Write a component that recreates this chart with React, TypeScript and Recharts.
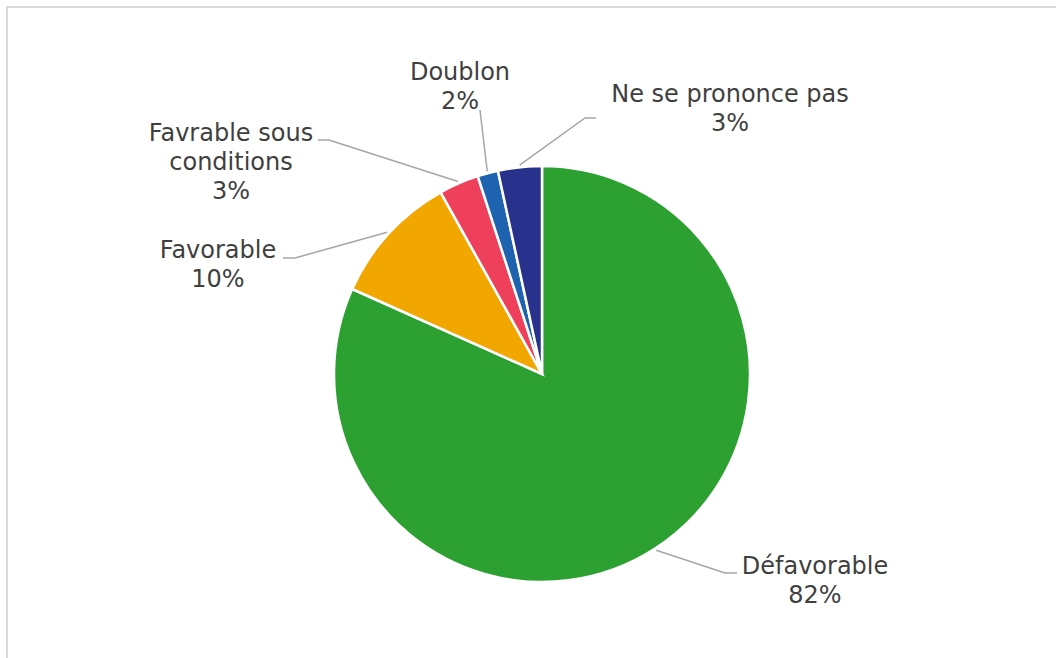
import React from "react";
import { Cell, Pie, PieChart } from "recharts";

const categories = ["Défavorable", "Favorable", "Favrable sous conditions", "Doublon", "Ne se prononce pas"];
const shares = [81.7, 10.2, 3.1, 1.6, 3.4];
const sliceColors = ["#2CA030", "#F1A700", "#EE3F5B", "#1E63B0", "#28328C"];

const data = categories.map((name, i) => ({ name, value: shares[i] }));

// label placement relative to the pie centre: elbow, line end, text centre x, first baseline, wrap width
const LABEL_LAYOUT = [
  { elbow: [183, 199], end: [195, 199], tx: 273, ty: 200, wrap: 0 },
  { elbow: [-247, -116], end: [-259, -116], tx: -324, ty: -116, wrap: 0 },
  { elbow: [-213, -234], end: [-224, -234], tx: -311, ty: -233, wrap: 13 },
  { elbow: [-62, -264], end: [-62, -264], tx: -82, ty: -294, wrap: 0 },
  { elbow: [43, -256], end: [54, -256], tx: 188, ty: -272, wrap: 0 },
];

const RADIAN = Math.PI / 180;
const LINE_GAP = 29;

function wrapText(text: string, width: number) {
  if (!width) return [text];
  const out: string[] = [];
  let cur = "";
  text.split(" ").forEach((w) => {
    const next = cur ? cur + " " + w : w;
    if (next.length > width && cur) {
      out.push(cur);
      cur = w;
    } else {
      cur = next;
    }
  });
  if (cur) out.push(cur);
  return out;
}

function renderLabel(props: any) {
  const { cx, cy, midAngle, outerRadius, index, percent, name } = props;
  const layout = LABEL_LAYOUT[index];
  const r = outerRadius + 2;
  const sx = cx + r * Math.cos(-midAngle * RADIAN);
  const sy = cy + r * Math.sin(-midAngle * RADIAN);
  const ex = cx + layout.elbow[0];
  const ey = cy + layout.elbow[1];
  const fx = cx + layout.end[0];
  const fy = cy + layout.end[1];
  const lines = [...wrapText(name, layout.wrap), `${Math.round(percent * 100)}%`];

  return (
    <g key={`label-${index}`}>
      <polyline points={`${sx},${sy} ${ex},${ey} ${fx},${fy}`} fill="none" stroke="#A6A6A6" strokeWidth={1.5} />
      <text x={cx + layout.tx} y={cy + layout.ty} textAnchor="middle" fill="#3F3F3F" fontSize={24} fontFamily="DejaVu Sans">
        {lines.map((line, i) => (
          <tspan key={i} x={cx + layout.tx} y={cy + layout.ty + i * LINE_GAP}>
            {line}
          </tspan>
        ))}
      </text>
    </g>
  );
}

export default function App() {
  return (
    <div
      style={{
        position: "fixed",
        left: 6,
        top: 6,
        width: 1050,
        height: 652,
        borderTop: "2px solid #D9D9D9",
        borderLeft: "2px solid #D9D9D9",
        background: "#FFFFFF",
      }}
    >
      <PieChart width={1048} height={650} margin={{ top: 0, right: 0, bottom: 0, left: 0 }}>
        <Pie
          data={data}
          dataKey="value"
          nameKey="name"
          cx={534}
          cy={366}
          outerRadius={208}
          startAngle={90}
          endAngle={-270}
          stroke="#FFFFFF"
          strokeWidth={2.5}
          label={renderLabel}
          labelLine={false}
          isAnimationActive={false}
        >
          {data.map((d, i) => (
            <Cell key={d.name} fill={sliceColors[i]} />
          ))}
        </Pie>
      </PieChart>
    </div>
  );
}
